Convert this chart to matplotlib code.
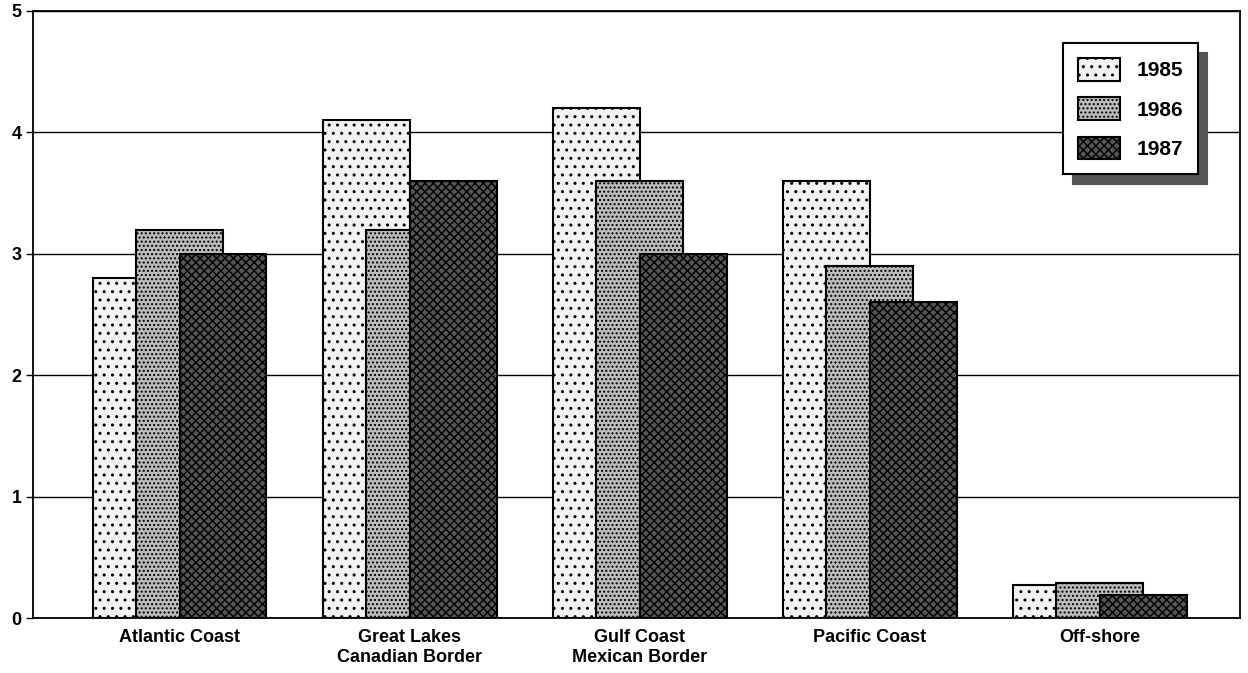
import numpy as np
import matplotlib
matplotlib.use('Agg')
import matplotlib.pyplot as plt

regions = ['Atlantic Coast', 'Great Lakes\nCanadian Border', 'Gulf Coast\nMexican Border',
           'Pacific Coast', 'Off-shore']
years = ['1985', '1986', '1987']
v1985 = [2.8, 4.1, 4.2, 3.6, 0.27]
v1986 = [3.2, 3.2, 3.6, 2.9, 0.29]
v1987 = [3.0, 3.6, 3.0, 2.6, 0.19]

plt.rcParams['font.family'] = ['Liberation Sans', 'DejaVu Sans']
plt.rcParams['hatch.linewidth'] = 1.0

fig = plt.figure(figsize=(12.48, 6.73), dpi=100)
ax = fig.add_axes([0.0264, 0.0817, 0.9672, 0.902])

x = np.arange(len(regions))
w = 0.378
off = 0.189
faces = ['#f2f2f2', '#bdbdbd', '#555555']
hatches = ['..', '....', 'xxxx']
for i, (vals, face, h) in enumerate(zip([v1985, v1986, v1987], faces, hatches)):
    ax.bar(x + (i - 1) * off, vals, w, color=face, edgecolor='black', hatch=h,
           linewidth=1.5, label=years[i], zorder=3 + i)

ax.set_xlim(-0.637, 4.609)
ax.set_ylim(0, 5)
ax.set_yticks(range(6))
ax.yaxis.grid(True, color='black', linewidth=1.0, zorder=1)
ax.set_axisbelow(True)
ax.set_xticks(x)
ax.set_xticklabels(regions, fontsize=13, fontweight='bold', linespacing=1.2)
ax.tick_params(axis='x', length=0, pad=8)
ax.tick_params(axis='y', length=5, width=1, labelsize=13, pad=3)
for t in ax.get_yticklabels():
    t.set_fontweight('bold')
for s in ax.spines.values():
    s.set_linewidth(1.3)

leg = ax.legend(loc='upper right', bbox_to_anchor=(0.9735, 0.964), fancybox=False,
                shadow={'color': '#555555', 'alpha': 1.0, 'ox': 7, 'oy': -7},
                edgecolor='black', framealpha=1, prop={'size': 15, 'weight': 'bold'},
                handlelength=2.0, handleheight=1.3, borderpad=0.7, labelspacing=0.8,
                handletextpad=0.8)
leg.get_frame().set_linewidth(1.5)

fig.savefig('out.png', dpi=100)
